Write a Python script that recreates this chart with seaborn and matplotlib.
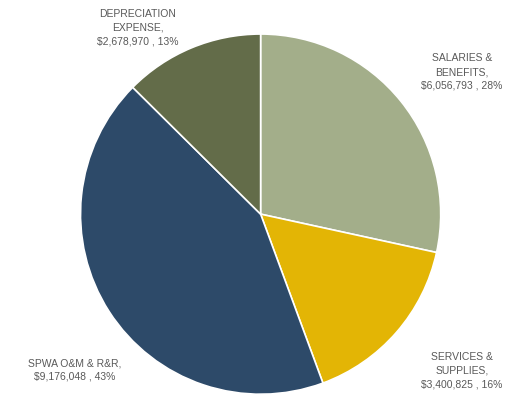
import matplotlib
matplotlib.use("Agg")
import matplotlib.pyplot as plt
import seaborn as sns

categories = ["SALARIES &\nBENEFITS,", "SERVICES &\nSUPPLIES,", "SPWA O&M & R&R,", "DEPRECIATION\nEXPENSE,"]
values = [6056793, 3400825, 9176048, 2678970]
percent_labels = ["28%", "16%", "43%", "13%"]
colors = ["#A3AE8A", "#E3B505", "#2D4A69", "#636C49"]

sns.set_theme(style="white")
plt.rcParams['font.family'] = ['Liberation Sans', 'DejaVu Sans']

fig = plt.figure(figsize=(5.10, 3.98), dpi=100)
ax = fig.add_axes([0.154, 0.005, 0.714, 0.914])
ax.pie(values, colors=colors, startangle=90, counterclock=False,
       wedgeprops=dict(edgecolor="white", linewidth=1.2))
ax.set_xlim(-1.01, 1.01)
ax.set_ylim(-1.01, 1.01)
ax.set_aspect("equal")

label_pos = [(0.906, 0.819), (0.906, 0.068), (0.147, 0.07), (0.27, 0.93)]
for cat, v, p, (x, y) in zip(categories, values, percent_labels, label_pos):
    fig.text(x, y, f"{cat}\n${v:,} , {p}", ha="center", va="center",
             fontsize=7.5, color="#595959", linespacing=1.45)

fig.savefig("out.png", dpi=100)
